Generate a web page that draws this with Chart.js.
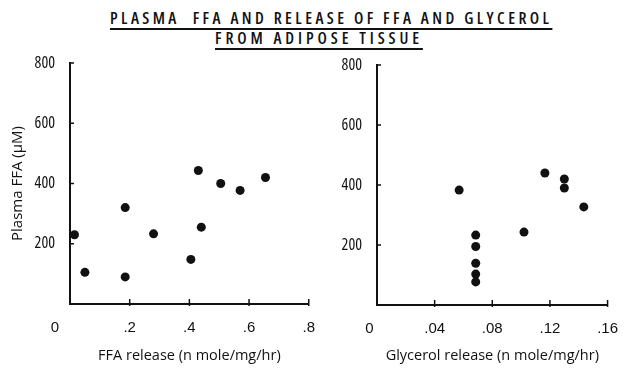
<!DOCTYPE html>
<html><head><meta charset="utf-8">
<script src="https://cdn.jsdelivr.net/npm/chart.js@4/dist/chart.umd.min.js"></script>
<style>
html,body{margin:0;padding:0;background:#fff;}
#wrap{position:relative;width:633px;height:368px;overflow:hidden;background:#fff;}
.t{position:absolute;white-space:pre;font-family:"Noto Sans","Liberation Sans",sans-serif;font-stretch:condensed;font-weight:600;font-size:16.5px;color:#111;text-decoration:underline;text-decoration-thickness:1.5px;text-underline-offset:4px;line-height:18px;}
canvas{position:absolute;top:0;}
</style></head><body>
<div id="wrap">
<div id="t1" class="t"></div>
<div id="t2" class="t"></div>
<canvas id="c1" width="330" height="368"></canvas>
<canvas id="c2" width="313" height="368" style="left:320px"></canvas>
</div>
<script>
// ---- data ----
const titleLines = ['PLASMA  FFA AND RELEASE OF FFA AND GLYCEROL', 'FROM ADIPOSE TISSUE'];
const ffaRelease  = [0.015, 0.05, 0.185, 0.185, 0.28, 0.405, 0.43, 0.44, 0.505, 0.57, 0.655];
const plasmaFfaA  = [230, 105, 320, 90, 233, 148, 443, 255, 400, 377, 420];
const glycerolRelease = [0.057, 0.0685, 0.0685, 0.0685, 0.0685, 0.0685, 0.102, 0.1165, 0.13, 0.13, 0.1435];
const plasmaFfaB  = [383, 233, 195, 139, 103, 77, 243, 440, 420, 390, 327];
const xTicksA = [0, 0.2, 0.4, 0.6, 0.8];
const xLabelsA = ['0', '.2', '.4', '.6', '.8'];
const xTicksB = [0, 0.04, 0.08, 0.12, 0.16];
const xLabelsB = ['0', '.04', '.08', '.12', '.16'];
const yTicks = [200, 400, 600, 800];
const yLabels = ['200', '400', '600', '800'];
const xTitleA = 'FFA release (n mole/mg/hr)';
const xTitleB = 'Glycerol release (n mole/mg/hr)';
const yTitleA = 'Plasma FFA (\u00b5M)';

const INK = '#111';
const FONT = '"Liberation Sans",Arial,sans-serif';

// pick a condensed face if one is available
const mctx = document.createElement('canvas').getContext('2d');
function condensedFace() {
  const fams = ['"Noto Sans"', '"Open Sans"', '"DejaVu Sans"', 'Roboto', 'Inter', 'Lato'];
  let best = null, bestRatio = 0.9;
  for (const f of fams) {
    mctx.font = `16px ${f}`;
    const w0 = mctx.measureText('800').width;
    for (const st of ['extra-condensed', 'condensed']) {
      mctx.font = `normal ${st} 16px ${f}`;
      const r = mctx.measureText('800').width / w0;
      if (r < bestRatio) { bestRatio = r; best = { family: f, stretch: st }; }
    }
  }
  return best;
}
const face = condensedFace();
const yTickFont = face ? { family: face.family, weight: face.stretch, size: 16 } : { family: FONT, size: 13 };
// axis-title font sized so the text spans the reference width
function fitFont(text, width) {
  const fam = face ? face.family : FONT;
  mctx.font = `16px ${fam}`;
  const w = mctx.measureText(text).width;
  const size = Math.max(13, Math.min(15.5, 16 * width / w));
  return { family: fam, size: Math.round(size * 2) / 2 };
}

// ---- title ----
function placeTitle(el, text, left, right, top) {
  if (face) el.style.fontFamily = face.family + ',"Liberation Sans",sans-serif';
  el.textContent = text;
  el.style.left = left + 'px';
  el.style.top = top + 'px';
  el.style.letterSpacing = '0px';
  const w = el.getBoundingClientRect().width;
  const ls = ((right - left) - w) / (text.length - 1);
  el.style.letterSpacing = ls + 'px';
}
placeTitle(document.getElementById('t1'), titleLines[0], 110, 549, 9);
placeTitle(document.getElementById('t2'), titleLines[1], 215, 419, 29);

const innerTicks = {
  id: 'innerTicks',
  afterDraw(chart) {
    const ctx = chart.ctx, a = chart.chartArea;
    ctx.save();
    ctx.strokeStyle = INK; ctx.lineWidth = 1.5;
    const xs = chart.scales.x, ys = chart.scales.y;
    xs.ticks.forEach(t => {
      if (t.value === 0) return;
      const px = xs.getPixelForValue(t.value);
      ctx.beginPath(); ctx.moveTo(px, a.bottom + 2); ctx.lineTo(px, a.bottom - 5); ctx.stroke();
    });
    ys.ticks.forEach(t => {
      const py = ys.getPixelForValue(t.value);
      ctx.beginPath(); ctx.moveTo(a.left, py); ctx.lineTo(a.left + 4, py); ctx.stroke();
    });
    ctx.restore();
  }
};

function makeChart(id, xs, ys, cfg) {
  return new Chart(document.getElementById(id), {
    type: 'scatter',
    data: { datasets: [{
      data: xs.map((x, i) => ({ x: x, y: ys[i] })),
      backgroundColor: INK, borderColor: INK, borderWidth: 0,
      pointRadius: 4.5, pointHoverRadius: 4.5
    }]},
    options: {
      responsive: false, animation: false, devicePixelRatio: 1,
      layout: { padding: { top: cfg.top, right: cfg.right, left: 0, bottom: 0 } },
      plugins: { legend: { display: false }, tooltip: { enabled: false } },
      scales: {
        x: {
          type: 'linear', min: 0, max: cfg.xTicks[cfg.xTicks.length - 1],
          afterBuildTicks: s => { s.ticks = cfg.xTicks.map(v => ({ value: v })); },
          grid: { display: true, drawOnChartArea: false, drawTicks: false },
          border: { display: true, color: INK, width: 2 },
          ticks: {
            padding: 15, color: INK, font: { family: FONT, size: 15 }, maxRotation: 0, autoSkip: false,
            callback: (v, i) => i === 0 ? cfg.xLabels[0] + cfg.zeroPad : cfg.xLabels[i]
          },
          title: { display: true, text: cfg.xTitle, color: INK, font: fitFont(cfg.xTitle, cfg.xTitleW), padding: { top: 0, bottom: 3 } },
          afterFit: s => { s.height = cfg.xH; }
        },
        y: {
          type: 'linear', min: 0, max: 800,
          afterBuildTicks: s => { s.ticks = yTicks.map(v => ({ value: v })); },
          grid: { display: true, drawOnChartArea: false, drawTicks: false },
          border: { display: true, color: INK, width: 2 },
          ticks: { padding: 15, color: INK, font: yTickFont,
            callback: (v, i) => yLabels[i] },
          title: { display: !!cfg.yTitle, text: cfg.yTitle || '', color: INK,
            font: cfg.yTitle ? fitFont(cfg.yTitle, 113) : { family: FONT, size: 15 }, padding: { top: 9, bottom: 0 } },
          afterFit: s => { s.width = cfg.yW; }
        }
      }
    },
    plugins: [innerTicks]
  });
}

makeChart('c1', ffaRelease, plasmaFfaA, {
  top: 63, right: 15, xH: 64, yW: 70,
  xTicks: xTicksA, xLabels: xLabelsA, zeroPad: '\u2003\u2003',
  xTitle: xTitleA, xTitleW: 183, yTitle: yTitleA
});
makeChart('c2', glycerolRelease, plasmaFfaB, {
  top: 65, right: 13, xH: 63, yW: 57,
  xTicks: xTicksB, xLabels: xLabelsB, zeroPad: '\u2003',
  xTitle: xTitleB, xTitleW: 216, yTitle: null
});
</script>
</body></html>
